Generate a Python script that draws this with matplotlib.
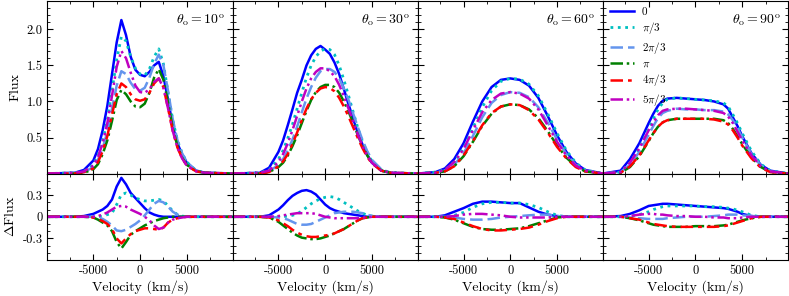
import numpy as np
import matplotlib
matplotlib.use("Agg")
import matplotlib.pyplot as plt
from matplotlib.ticker import AutoMinorLocator

plt.rcParams['font.family'] = 'serif'
plt.rcParams['font.serif'] = ['cmr10', 'DejaVu Serif']
plt.rcParams['mathtext.fontset'] = 'cm'
plt.rcParams['axes.unicode_minus'] = False
plt.rcParams['axes.formatter.use_mathtext'] = True

# velocity grids (km/s)
vel_a = [-9900, -7000, -6000, -5000, -4500, -4000, -3500, -3000, -2500, -2000, -1500, -1000, -500, 0,
         500, 1000, 1500, 2000, 2500, 3000, 3500, 4000, 4500, 5000, 6000, 7000, 9900]
vel_b = [-9900, -8000, -7000, -6000, -5000, -4000, -3000, -2000, -1000, 0,
         1000, 2000, 3000, 4000, 5000, 6000, 7000, 8000, 9900]
vel_c = [-9900, -8000, -7000, -6000, -5000, -4500, -4000, -3500, -3000, -2000, -1000, 0,
         1000, 2000, 3000, 3500, 4000, 4500, 5000, 6000, 7000, 8000, 9900]

labels = ['0', r'$\pi/3$', r'$2\pi/3$', r'$\pi$', r'$4\pi/3$', r'$5\pi/3$']
angles = ['10', '30', '60', '90']

# theta_o = 10
flux_10 = [
    [0, 0.01, 0.05, 0.18, 0.34, 0.60, 0.94, 1.38, 1.82, 2.13, 1.92, 1.62, 1.44, 1.37, 1.35, 1.41, 1.50, 1.55, 1.35, 1.02, 0.66, 0.42, 0.26, 0.15, 0.04, 0.01, 0],
    [0, 0.01, 0.03, 0.12, 0.25, 0.45, 0.75, 1.15, 1.58, 1.90, 1.84, 1.62, 1.46, 1.38, 1.36, 1.45, 1.62, 1.73, 1.52, 1.12, 0.74, 0.46, 0.28, 0.16, 0.04, 0.01, 0],
    [0, 0.01, 0.02, 0.09, 0.19, 0.35, 0.58, 0.90, 1.22, 1.42, 1.38, 1.26, 1.17, 1.15, 1.19, 1.33, 1.52, 1.65, 1.50, 1.14, 0.75, 0.46, 0.28, 0.16, 0.04, 0.01, 0],
    [0, 0.00, 0.01, 0.06, 0.13, 0.27, 0.46, 0.73, 1.02, 1.16, 1.10, 1.00, 0.93, 0.92, 0.97, 1.12, 1.33, 1.45, 1.30, 0.98, 0.63, 0.38, 0.22, 0.12, 0.03, 0.01, 0],
    [0, 0.00, 0.02, 0.07, 0.16, 0.31, 0.52, 0.82, 1.10, 1.25, 1.20, 1.10, 1.03, 1.01, 1.03, 1.12, 1.25, 1.32, 1.20, 0.90, 0.59, 0.36, 0.21, 0.11, 0.03, 0.01, 0],
    [0, 0.01, 0.03, 0.11, 0.23, 0.42, 0.70, 1.08, 1.48, 1.70, 1.60, 1.40, 1.22, 1.13, 1.12, 1.17, 1.27, 1.32, 1.19, 0.90, 0.59, 0.36, 0.21, 0.11, 0.03, 0.01, 0],
]
dflux_10 = [
    [0, 0, 0.01, 0.04, 0.07, 0.10, 0.15, 0.24, 0.42, 0.54, 0.45, 0.33, 0.26, 0.19, 0.12, 0.06, 0.03, 0.01, 0, 0, 0, 0, 0, 0, 0, 0, 0],
    [0, 0, 0, 0, 0, 0.01, 0.03, 0.05, 0.17, 0.31, 0.33, 0.30, 0.26, 0.24, 0.22, 0.22, 0.23, 0.24, 0.22, 0.15, 0.08, 0.03, 0.01, 0, 0, 0, 0],
    [0, 0, 0, 0, -0.01, -0.03, -0.07, -0.12, -0.19, -0.20, -0.18, -0.14, -0.10, -0.05, 0.02, 0.10, 0.18, 0.22, 0.20, 0.14, 0.07, 0.03, 0.01, 0, 0, 0, 0],
    [0, 0, 0, -0.01, -0.04, -0.08, -0.12, -0.20, -0.35, -0.44, -0.35, -0.25, -0.20, -0.16, -0.12, -0.09, -0.06, -0.04, -0.02, -0.01, 0, 0, 0, 0, 0, 0, 0],
    [0, 0, 0, -0.01, -0.03, -0.06, -0.10, -0.17, -0.30, -0.37, -0.30, -0.24, -0.20, -0.18, -0.16, -0.16, -0.17, -0.18, -0.15, -0.08, -0.04, -0.02, -0.01, 0, 0, 0, 0],
    [0, 0, 0, 0, 0.01, 0.03, 0.06, 0.10, 0.14, 0.15, 0.14, 0.10, 0.07, 0.04, 0, -0.05, -0.12, -0.17, -0.15, -0.08, -0.04, -0.02, -0.01, 0, 0, 0, 0],
]

# theta_o = 30
flux_30 = [
    [0, 0.01, 0.08, 0.30, 0.46, 0.67, 0.89, 1.12, 1.30, 1.50, 1.64, 1.73, 1.77, 1.72, 1.66, 1.54, 1.38, 1.17, 0.96, 0.76, 0.56, 0.40, 0.26, 0.15, 0.04, 0.01, 0],
    [0, 0.01, 0.05, 0.20, 0.32, 0.49, 0.68, 0.90, 1.12, 1.33, 1.50, 1.62, 1.70, 1.73, 1.72, 1.65, 1.50, 1.30, 1.08, 0.85, 0.63, 0.44, 0.29, 0.17, 0.05, 0.01, 0],
    [0, 0.00, 0.03, 0.12, 0.20, 0.32, 0.47, 0.65, 0.85, 1.04, 1.20, 1.33, 1.42, 1.45, 1.45, 1.41, 1.32, 1.18, 1.02, 0.83, 0.64, 0.46, 0.31, 0.19, 0.06, 0.01, 0],
    [0, 0.00, 0.02, 0.09, 0.15, 0.25, 0.38, 0.53, 0.70, 0.87, 1.02, 1.13, 1.20, 1.23, 1.23, 1.20, 1.12, 1.00, 0.86, 0.70, 0.53, 0.38, 0.25, 0.15, 0.04, 0.01, 0],
    [0, 0.00, 0.02, 0.10, 0.17, 0.27, 0.41, 0.57, 0.74, 0.90, 1.03, 1.12, 1.18, 1.20, 1.19, 1.14, 1.05, 0.93, 0.79, 0.64, 0.49, 0.35, 0.23, 0.14, 0.04, 0.01, 0],
    [0, 0.01, 0.04, 0.16, 0.27, 0.42, 0.60, 0.80, 1.00, 1.18, 1.32, 1.41, 1.46, 1.46, 1.42, 1.35, 1.23, 1.07, 0.90, 0.72, 0.54, 0.38, 0.25, 0.15, 0.04, 0.01, 0],
]
dflux_30 = [
    [0, 0, 0.02, 0.10, 0.16, 0.23, 0.29, 0.33, 0.36, 0.37, 0.35, 0.31, 0.24, 0.17, 0.12, 0.09, 0.07, 0.05, 0.04, 0.03, 0.02, 0.01, 0, 0, 0, 0, 0],
    [0, 0, 0, 0, 0, 0.01, 0.02, 0.04, 0.08, 0.13, 0.18, 0.22, 0.25, 0.27, 0.28, 0.27, 0.24, 0.20, 0.16, 0.12, 0.08, 0.05, 0.02, 0.01, 0, 0, 0],
    [0, 0, 0, -0.01, -0.02, -0.04, -0.07, -0.10, -0.11, -0.11, -0.10, -0.07, -0.04, -0.01, 0.02, 0.05, 0.06, 0.07, 0.07, 0.07, 0.06, 0.05, 0.03, 0.01, 0, 0, 0],
    [0, 0, -0.01, -0.07, -0.12, -0.17, -0.22, -0.26, -0.29, -0.30, -0.31, -0.31, -0.30, -0.28, -0.26, -0.23, -0.20, -0.17, -0.13, -0.09, -0.05, -0.02, -0.01, 0, 0, 0, 0],
    [0, 0, -0.01, -0.05, -0.09, -0.13, -0.18, -0.22, -0.25, -0.27, -0.28, -0.28, -0.27, -0.26, -0.25, -0.23, -0.20, -0.17, -0.13, -0.09, -0.05, -0.02, -0.01, 0, 0, 0, 0],
    [0, 0, 0, 0.01, 0.02, 0.03, 0.04, 0.05, 0.05, 0.05, 0.05, 0.04, 0.02, 0, -0.01, -0.02, -0.02, -0.02, -0.02, -0.02, -0.02, -0.01, -0.01, 0, 0, 0, 0],
]

# theta_o = 60
flux_60 = [
    [0, 0.02, 0.07, 0.20, 0.42, 0.72, 1.00, 1.20, 1.30, 1.32, 1.30, 1.22, 1.05, 0.80, 0.53, 0.30, 0.14, 0.05, 0],
    [0, 0.02, 0.05, 0.16, 0.35, 0.63, 0.92, 1.15, 1.28, 1.32, 1.31, 1.24, 1.08, 0.83, 0.56, 0.32, 0.15, 0.05, 0],
    [0, 0.01, 0.04, 0.12, 0.28, 0.52, 0.78, 0.98, 1.09, 1.13, 1.12, 1.06, 0.92, 0.71, 0.47, 0.27, 0.12, 0.04, 0],
    [0, 0.01, 0.03, 0.10, 0.24, 0.44, 0.66, 0.83, 0.93, 0.96, 0.95, 0.89, 0.77, 0.59, 0.39, 0.22, 0.10, 0.03, 0],
    [0, 0.01, 0.03, 0.10, 0.25, 0.45, 0.67, 0.84, 0.93, 0.96, 0.95, 0.88, 0.75, 0.57, 0.37, 0.21, 0.09, 0.03, 0],
    [0, 0.01, 0.05, 0.16, 0.34, 0.60, 0.85, 1.02, 1.11, 1.13, 1.11, 1.04, 0.89, 0.67, 0.44, 0.25, 0.11, 0.04, 0],
]
dflux_60 = [
    [0, 0, 0.02, 0.07, 0.12, 0.18, 0.21, 0.21, 0.20, 0.19, 0.19, 0.13, 0.07, 0.03, 0.01, 0, 0, 0, 0],
    [0, 0, 0, 0.02, 0.06, 0.13, 0.18, 0.20, 0.20, 0.19, 0.19, 0.17, 0.13, 0.07, 0.02, 0, 0, 0, 0],
    [0, 0, 0, -0.01, -0.03, -0.04, -0.04, -0.03, -0.01, 0, 0.01, 0.02, 0.03, 0.03, 0.01, 0, 0, 0, 0],
    [0, 0, -0.01, -0.04, -0.09, -0.14, -0.17, -0.18, -0.18, -0.17, -0.16, -0.13, -0.09, -0.05, -0.01, 0, 0, 0, 0],
    [0, 0, -0.01, -0.03, -0.08, -0.13, -0.17, -0.19, -0.19, -0.18, -0.17, -0.15, -0.11, -0.06, -0.02, 0, 0, 0, 0],
    [0, 0, 0, 0.01, 0.03, 0.04, 0.04, 0.03, 0.02, 0, -0.01, -0.01, -0.01, -0.01, 0, 0, 0, 0, 0],
]

# theta_o = 90
flux_90 = [
    [0, 0.04, 0.20, 0.42, 0.70, 0.83, 0.94, 1.01, 1.04, 1.05, 1.04, 1.03, 1.02, 1.00, 0.96, 0.90, 0.78, 0.66, 0.52, 0.28, 0.12, 0.04, 0],
    [0, 0.02, 0.15, 0.35, 0.62, 0.76, 0.89, 0.98, 1.03, 1.05, 1.04, 1.03, 1.02, 1.01, 0.98, 0.93, 0.82, 0.70, 0.56, 0.31, 0.13, 0.04, 0],
    [0, 0.02, 0.12, 0.30, 0.54, 0.66, 0.77, 0.84, 0.87, 0.90, 0.89, 0.89, 0.88, 0.88, 0.86, 0.82, 0.74, 0.63, 0.50, 0.27, 0.11, 0.03, 0],
    [0, 0.01, 0.09, 0.24, 0.45, 0.56, 0.65, 0.71, 0.74, 0.76, 0.76, 0.76, 0.76, 0.76, 0.74, 0.70, 0.62, 0.52, 0.41, 0.22, 0.09, 0.02, 0],
    [0, 0.01, 0.10, 0.25, 0.46, 0.56, 0.65, 0.71, 0.74, 0.76, 0.76, 0.76, 0.76, 0.75, 0.72, 0.68, 0.60, 0.50, 0.39, 0.21, 0.08, 0.02, 0],
    [0, 0.02, 0.15, 0.35, 0.60, 0.71, 0.81, 0.87, 0.89, 0.90, 0.90, 0.89, 0.88, 0.87, 0.84, 0.79, 0.70, 0.58, 0.46, 0.25, 0.10, 0.03, 0],
]
dflux_90 = [
    [0, 0.01, 0.04, 0.09, 0.15, 0.16, 0.17, 0.18, 0.18, 0.17, 0.16, 0.15, 0.14, 0.13, 0.12, 0.11, 0.09, 0.07, 0.04, 0.01, 0, 0, 0],
    [0, 0, 0.01, 0.03, 0.07, 0.10, 0.12, 0.14, 0.15, 0.15, 0.15, 0.15, 0.14, 0.14, 0.13, 0.12, 0.11, 0.09, 0.07, 0.02, 0, 0, 0],
    [0, 0, -0.01, -0.02, -0.03, -0.03, -0.03, -0.03, -0.02, -0.01, 0, 0, 0, 0.01, 0.02, 0.03, 0.03, 0.03, 0.02, 0.01, 0, 0, 0],
    [0, 0, -0.02, -0.05, -0.09, -0.11, -0.12, -0.13, -0.14, -0.14, -0.14, -0.13, -0.13, -0.13, -0.12, -0.11, -0.09, -0.07, -0.05, -0.02, 0, 0, 0],
    [0, 0, -0.02, -0.04, -0.08, -0.10, -0.11, -0.12, -0.13, -0.14, -0.14, -0.14, -0.14, -0.14, -0.13, -0.12, -0.10, -0.08, -0.06, -0.02, 0, 0, 0],
    [0, 0, 0.01, 0.03, 0.04, 0.04, 0.03, 0.03, 0.02, 0.01, 0.01, 0, 0, -0.01, -0.01, -0.02, -0.02, -0.02, -0.01, 0, 0, 0, 0],
]

xticks = [-5000, 0, 5000]
xticklabels = ['-5000', '0', '5000']
fticks = [0.5, 1.0, 1.5, 2.0]
fticklabels = ['0.5', '1.0', '1.5', '2.0']
dticks = [-0.3, 0, 0.3]
dticklabels = ['-0.3', '0', '0.3']

colors = ['#0000ff', '#00c0c0', 'cornflowerblue', 'green', 'red', '#c000c0']
styles = ['-', ':', (0, (5, 2)), (0, (5, 1.5, 1, 1.5)), (0, (5, 2, 1.5, 2)), (0, (5, 1.5, 1, 1.5, 1, 1.5))]
widths = [1.8, 2.0, 1.8, 1.8, 1.8, 1.8]

fig = plt.figure(figsize=(7.89, 2.96), dpi=100)
gs = fig.add_gridspec(2, 4, height_ratios=[2, 1], left=0.0602, right=0.9987,
                      top=0.998, bottom=0.1216, wspace=0, hspace=0)

panels = [(vel_a, flux_10, dflux_10), (vel_a, flux_30, dflux_30),
          (vel_b, flux_60, dflux_60), (vel_c, flux_90, dflux_90)]

for i, (vel, flux, dflux) in enumerate(panels):
    ax = fig.add_subplot(gs[0, i])
    axd = fig.add_subplot(gs[1, i])
    for k in range(6):
        ax.plot(vel, flux[k], color=colors[k], linestyle=styles[k], lw=widths[k], label=labels[k])
        axd.plot(vel, dflux[k], color=colors[k], linestyle=styles[k], lw=widths[k])
    ax.set_xlim(-9900, 9900)
    axd.set_xlim(-9900, 9900)
    ax.set_ylim(0, 2.4)
    axd.set_ylim(-0.6, 0.6)
    ax.set_xticks(xticks)
    ax.set_xticklabels([])
    axd.set_xticks(xticks)
    axd.set_xticklabels(xticklabels, fontsize=9)
    ax.set_yticks(fticks)
    axd.set_yticks(dticks)
    if i == 0:
        ax.set_yticklabels(fticklabels, fontsize=9)
        axd.set_yticklabels(dticklabels, fontsize=9)
        ax.set_ylabel('Flux', fontsize=10)
        axd.set_ylabel(r'$\Delta$Flux', fontsize=10)
    else:
        ax.set_yticklabels([])
        axd.set_yticklabels([])
    axd.set_xlabel('Velocity (km/s)', fontsize=10, labelpad=2)
    for a in (ax, axd):
        a.xaxis.set_minor_locator(AutoMinorLocator(2))
        a.tick_params(which='both', direction='in', top=True, right=True)
        a.tick_params(which='major', length=4)
        a.tick_params(which='minor', length=2)
    ax.yaxis.set_minor_locator(AutoMinorLocator(5))
    axd.yaxis.set_minor_locator(AutoMinorLocator(3))
    ax.text(0.96, 0.885, r'$\theta_{\rm o} = ' + angles[i] + r'^{\rm o}$',
            transform=ax.transAxes, ha='right', va='center', fontsize=10)
    if i == 3:
        ax.legend(loc='upper left', frameon=False, fontsize=8, handlelength=2.2,
                  handletextpad=0.7, labelspacing=0.3, borderaxespad=0.2)

plt.savefig('out.png', dpi=100)
